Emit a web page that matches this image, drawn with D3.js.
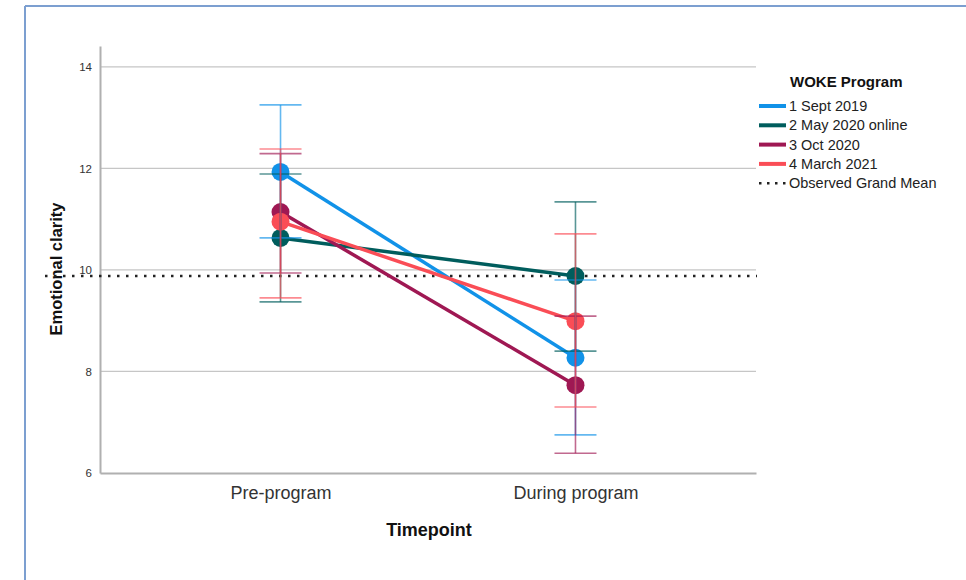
<!DOCTYPE html>
<html>
<head>
<meta charset="utf-8">
<script src="https://cdn.jsdelivr.net/npm/d3@7"></script>
<style>
  html, body { margin: 0; padding: 0; background: #fff; }
  svg { display: block; font-family: "Liberation Sans", Arial, sans-serif; }
</style>
</head>
<body>
<svg id="chart" width="966" height="580"></svg>
<script>
// ---- data ----
const timepoints = ["Pre-program", "During program"];
const seriesNames = ["1 Sept 2019", "2 May 2020 online", "3 Oct 2020", "4 March 2021"];
const seriesColors = ["#1192e8", "#005d5d", "#9f1853", "#fa4d56"];
const meanSept2019 = [11.93, 8.27];
const meanMay2020 = [10.63, 9.88];
const meanOct2020 = [11.14, 7.73];
const meanMar2021 = [10.95, 8.99];
const lowSept2019 = [10.63, 6.75];
const highSept2019 = [13.25, 9.80];
const lowMay2020 = [9.37, 8.40];
const highMay2020 = [11.89, 11.34];
const lowOct2020 = [9.94, 6.39];
const highOct2020 = [12.29, 9.09];
const lowMar2021 = [9.45, 7.30];
const highMar2021 = [12.38, 10.71];
const grandMean = 9.88;
const yTicks = [6, 8, 10, 12, 14];

const seriesMeans = [meanSept2019, meanMay2020, meanOct2020, meanMar2021];
const seriesLows = [lowSept2019, lowMay2020, lowOct2020, lowMar2021];
const seriesHighs = [highSept2019, highMay2020, highOct2020, highMar2021];
const series = seriesNames.map((name, i) => ({
  name, color: seriesColors[i],
  points: timepoints.map((t, j) => ({ t, mean: seriesMeans[i][j], lo: seriesLows[i][j], hi: seriesHighs[i][j] }))
}));

// ---- layout ----
const svg = d3.select("#chart");
const plotL = 100, plotR = 756, plotT = 46, plotB = 473;

// frame
svg.append("line").attr("x1", 25).attr("x2", 966).attr("y1", 6).attr("y2", 6)
  .attr("stroke", "#7c9fd0").attr("stroke-width", 2);
svg.append("line").attr("x1", 25).attr("x2", 25).attr("y1", 6).attr("y2", 580)
  .attr("stroke", "#7c9fd0").attr("stroke-width", 2);

const x = d3.scalePoint().domain(timepoints).range([plotL, plotR]).padding(0.612);
const y = d3.scaleLinear().domain([6, 14.41]).range([plotB, plotT]);

// gridlines
svg.append("g").selectAll("line").data(yTicks.filter(d => d > 6)).join("line")
  .attr("x1", plotL).attr("x2", plotR)
  .attr("y1", d => y(d)).attr("y2", d => y(d))
  .attr("stroke", "#c6c6c6").attr("stroke-width", 1.2);

// axes
const yAxis = svg.append("g").attr("transform", `translate(${plotL},0)`)
  .call(d3.axisLeft(y).tickValues(yTicks).tickSize(0).tickPadding(8));
yAxis.select(".domain").attr("stroke", "#b0b0b0").attr("stroke-width", 2);
yAxis.selectAll("text").attr("font-size", 11.5).attr("fill", "#333")
  .attr("font-family", "Liberation Sans, Arial, sans-serif");

const xAxis = svg.append("g").attr("transform", `translate(0,${plotB})`)
  .call(d3.axisBottom(x).tickSize(0).tickPadding(13));
xAxis.select(".domain").attr("stroke", "#b0b0b0").attr("stroke-width", 2);
xAxis.selectAll("text").attr("font-size", 18).attr("fill", "#333")
  .attr("font-family", "Liberation Sans, Arial, sans-serif");

// axis titles
svg.append("text").attr("x", 429).attr("y", 536).attr("text-anchor", "middle")
  .attr("font-size", 18).attr("font-weight", "bold").attr("fill", "#111").text("Timepoint");
svg.append("text").attr("transform", `translate(62,269) rotate(-90)`).attr("text-anchor", "middle")
  .attr("font-size", 16.5).attr("font-weight", "bold").attr("fill", "#111").text("Emotional clarity");

// grand mean
svg.append("line").attr("x1", 45).attr("x2", 757)
  .attr("y1", y(grandMean)).attr("y2", y(grandMean))
  .attr("stroke", "#222").attr("stroke-width", 2.5).attr("stroke-dasharray", "2.5,6.5");

// series lines
const line = d3.line().x(d => x(d.t)).y(d => y(d.mean));
svg.append("g").selectAll("path").data(series).join("path")
  .attr("d", d => line(d.points)).attr("fill", "none")
  .attr("stroke", d => d.color).attr("stroke-width", 3.5);

// markers
series.forEach(s => {
  svg.append("g").selectAll("circle").data(s.points).join("circle")
    .attr("cx", d => x(d.t)).attr("cy", d => y(d.mean)).attr("r", 9)
    .attr("fill", s.color);
});

// error bars (on top)
const capHalf = 21;
series.forEach(s => {
  const g = svg.append("g").attr("stroke", s.color).attr("stroke-opacity", 0.65).attr("stroke-width", 1.6);
  g.selectAll("line.v").data(s.points).join("line").attr("class", "v")
    .attr("x1", d => x(d.t)).attr("x2", d => x(d.t))
    .attr("y1", d => y(d.lo)).attr("y2", d => y(d.hi));
  g.selectAll("line.hi").data(s.points).join("line").attr("class", "hi")
    .attr("x1", d => x(d.t) - capHalf).attr("x2", d => x(d.t) + capHalf)
    .attr("y1", d => y(d.hi)).attr("y2", d => y(d.hi));
  g.selectAll("line.lo").data(s.points).join("line").attr("class", "lo")
    .attr("x1", d => x(d.t) - capHalf).attr("x2", d => x(d.t) + capHalf)
    .attr("y1", d => y(d.lo)).attr("y2", d => y(d.lo));
});

// legend
const lg = svg.append("g");
lg.append("text").attr("x", 790).attr("y", 87).attr("font-size", 15)
  .attr("font-weight", "bold").attr("fill", "#111").text("WOKE Program");
const rowY = i => 106 + i * 19.3;
series.forEach((s, i) => {
  lg.append("line").attr("x1", 759).attr("x2", 786).attr("y1", rowY(i)).attr("y2", rowY(i))
    .attr("stroke", s.color).attr("stroke-width", 4);
  lg.append("text").attr("x", 789).attr("y", rowY(i) + 5).attr("font-size", 14.5)
    .attr("fill", "#222").text(s.name);
});
lg.append("line").attr("x1", 759).attr("x2", 786).attr("y1", rowY(4)).attr("y2", rowY(4))
  .attr("stroke", "#222").attr("stroke-width", 2.5).attr("stroke-dasharray", "2.5,5.5");
lg.append("text").attr("x", 789).attr("y", rowY(4) + 5).attr("font-size", 14.5)
  .attr("fill", "#222").text("Observed Grand Mean");
</script>
</body>
</html>
